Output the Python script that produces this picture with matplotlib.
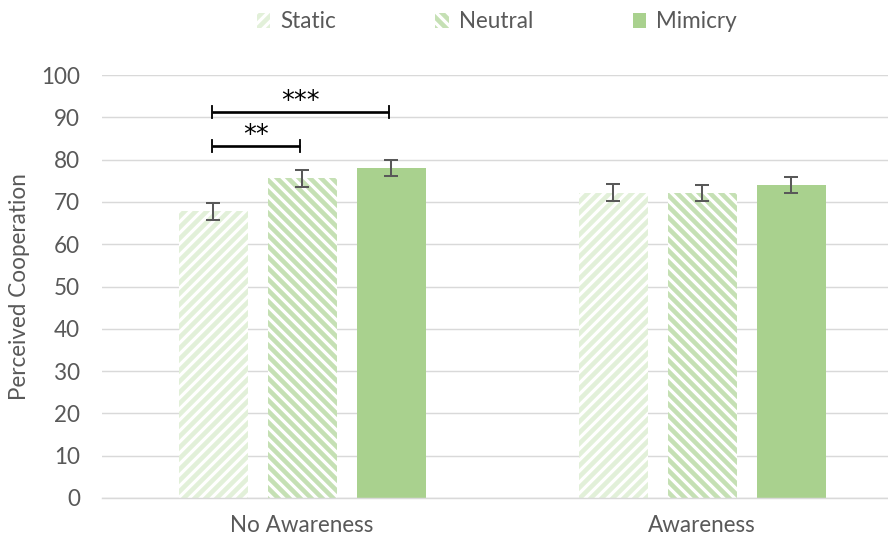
import matplotlib
matplotlib.use("Agg")
import matplotlib.pyplot as plt
import numpy as np
from matplotlib.patches import Patch

plt.rcParams['font.family'] = ['Lato', 'DejaVu Sans']
plt.rcParams['hatch.linewidth'] = 2.5

groups = ["No Awareness", "Awareness"]
conditions = ["Static", "Neutral", "Mimicry"]
means = {
    "Static": [67.8, 72.2],
    "Neutral": [75.6, 72.2],
    "Mimicry": [78.0, 74.0],
}
errors = {
    "Static": [2.0, 2.0],
    "Neutral": [2.0, 1.9],
    "Mimicry": [1.9, 2.0],
}
# significance brackets within "No Awareness": (from, to, label, height)
sig_pairs = [("Static", "Neutral", "**", 83.2), ("Static", "Mimicry", "***", 91.3)]
yticks = list(range(0, 101, 10))

styles = {
    "Static": dict(facecolor="white", edgecolor="#E2F0D9", hatch="////"),
    "Neutral": dict(facecolor="white", edgecolor="#C5E0B4", hatch="\\\\\\\\"),
    "Mimicry": dict(facecolor="#A9D18E", edgecolor="#A9D18E", hatch=None),
}

DPI = 132
FS = 12.3
fig = plt.figure(figsize=(888 / DPI, 540 / DPI), dpi=DPI)
ax = fig.add_axes([102 / 888, 1 - 498 / 540, 1 - 102 / 888, (498 - 75) / 540])

x = np.arange(len(groups))
width = 0.1725
offsets = {"Static": -0.2225, "Neutral": 0.0, "Mimicry": 0.2225}

for cond in conditions:
    st = styles[cond]
    ax.bar(x + offsets[cond], means[cond], width=width, color=st["facecolor"],
           edgecolor=st["edgecolor"], hatch=st["hatch"], linewidth=0, zorder=2)
    ax.errorbar(x + offsets[cond], means[cond], yerr=errors[cond], fmt="none",
                ecolor="#595959", elinewidth=1.1, capsize=3.6, capthick=1.1, zorder=3)

# significance brackets
cap = 1.4
for a, b, label, h in sig_pairs:
    x0 = x[0] + offsets[a] - 0.002
    x1 = x[0] + offsets[b] - 0.006
    ax.plot([x0, x1], [h, h], color="black", lw=1.45, zorder=4, solid_capstyle="butt")
    for xx in (x0, x1):
        ax.plot([xx, xx], [h - cap, h + cap], color="black", lw=1.0, zorder=4)
    ax.text((x0 + x1) / 2, h + 3.0, label, ha="center", va="center_baseline",
            fontsize=14, color="black", family=["DejaVu Sans"])

ax.set_ylim(0, 100)
ax.set_xlim(-0.5, -0.5 + 786 / 400)
ax.set_yticks(yticks)
ax.set_xticks(x)
ax.set_xticklabels(groups)
ax.yaxis.grid(True, color="#D9D9D9", lw=0.8, zorder=0)
ax.set_axisbelow(True)
for s in ["top", "right", "left"]:
    ax.spines[s].set_visible(False)
ax.spines["bottom"].set_color("#D9D9D9")
ax.spines["bottom"].set_linewidth(0.8)
ax.tick_params(axis="both", length=0, colors="#595959", labelsize=FS)
ax.tick_params(axis="y", pad=12)
ax.tick_params(axis="x", pad=9)
ax.set_ylabel("Perceived Cooperation", fontsize=FS, color="#595959")
ax.yaxis.set_label_coords((30 - 102) / 786, 0.5)

handles = [Patch(facecolor=styles[c]["facecolor"], edgecolor=styles[c]["edgecolor"],
                 hatch=styles[c]["hatch"], linewidth=0, label=c) for c in conditions]
leg = fig.legend(handles=handles, loc="center", bbox_to_anchor=(497 / 888, 1 - 22 / 540),
                 ncol=3, frameon=False, fontsize=FS, handlelength=0.6, handleheight=0.6,
                 handletextpad=0.45, columnspacing=4.4, labelcolor="#595959")

fig.savefig("out.png", dpi=DPI)
